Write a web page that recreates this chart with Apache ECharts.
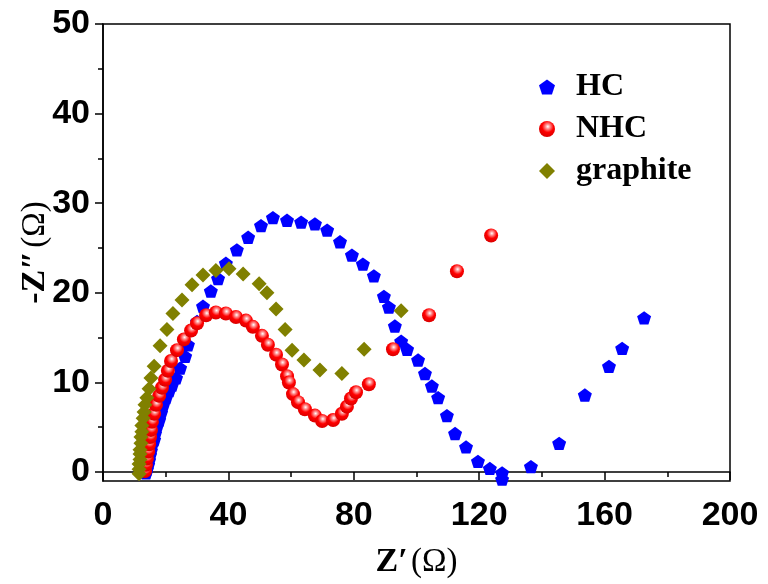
<!DOCTYPE html>
<html><head><meta charset="utf-8">
<script src="https://cdn.jsdelivr.net/npm/echarts@6/dist/echarts.min.js"></script>
<style>html,body{margin:0;padding:0;background:#fff}#c{width:768px;height:584px}</style>
</head><body><div id="c"></div>
<script>
// HC: [Z', -Z'']
const hcX = [13.7,14.0,14.4,14.7,15.0,15.3,15.6,16.3,16.6,17.2,17.9,18.5,19.1,20.1,21.1,22.0,23.3,24.6,26.2,27.1,30.0,31.9,34.4,36.7,39.2,42.7,46.3,50.4,54.2,58.7,63.2,67.6,71.5,75.6,79.4,82.9,86.4,89.6,91.2,93.1,95.1,97.0,100.5,102.7,104.9,106.9,109.7,112.3,115.8,119.6,123.4,127.3,127.3,136.5,145.5,153.7,161.4,165.6,172.6];
const hcY = [-0.1,0.3,0.8,1.3,1.9,2.4,3.0,3.6,4.3,5.1,5.8,6.6,7.4,8.3,9.1,9.7,10.5,11.6,12.9,14.2,16.8,18.5,20.2,21.6,23.3,24.8,26.2,27.5,28.4,28.1,27.9,27.7,27.0,25.7,24.2,23.2,21.9,19.6,18.4,16.3,14.6,13.7,12.5,11.0,9.6,8.3,6.3,4.3,2.8,1.2,0.4,-0.1,-0.8,0.6,3.2,8.6,11.8,13.8,17.2];
// NHC
const nhcX = [13.4,13.7,14.0,14.4,14.7,15.0,15.3,15.6,16.3,16.9,17.9,18.8,19.8,20.7,21.7,23.6,25.8,28.1,30.0,32.9,36.0,39.2,42.4,45.6,47.8,50.7,52.6,55.2,57.1,58.7,59.3,60.6,62.2,64.4,67.6,69.9,73.4,76.2,77.8,79.1,80.7,84.8,92.5,104.0,112.9,123.8];
const nhcY = [0.1,0.8,1.5,2.3,3.1,3.9,4.7,5.6,6.5,7.5,8.5,9.4,10.3,11.3,12.4,13.6,14.8,15.8,16.6,17.5,17.8,17.7,17.3,16.9,16.2,15.2,14.2,13.1,12.0,10.7,10.0,8.7,7.8,7.0,6.3,5.7,5.8,6.5,7.3,8.2,8.9,9.8,13.7,17.5,22.4,26.4];
// graphite
const grX = [11.5,11.5,11.5,11.8,11.8,11.8,12.1,12.1,12.4,12.4,12.8,13.1,13.4,14.0,14.7,15.3,16.3,18.2,20.4,22.3,25.2,28.4,31.9,36.0,40.2,44.7,49.8,52.3,55.2,58.1,60.3,64.1,69.2,76.2,83.3,95.1];
const grY = [-0.2,0.3,0.9,1.4,2.0,2.5,3.2,3.9,4.5,5.2,6.0,6.7,7.5,8.3,9.3,10.5,11.8,14.1,15.9,17.7,19.2,20.9,22.0,22.5,22.7,22.1,21.0,20.0,18.2,15.9,13.6,12.5,11.4,11.0,13.7,18.0];

const seriesNames = ['HC','NHC','graphite'];
const xTicks = [0,40,80,120,160,200];
const yTicks = [0,10,20,30,40,50];
const yMinorTicks = [5,15,25,35,45];

const zip = (a,b) => a.map((v,i)=>[v,b[i]]);
const pentagon = 'path://M0,-1L0.951,-0.309L0.588,0.809L-0.588,0.809L-0.951,-0.309Z';
const labelFont = {fontFamily:'Liberation Sans, Arial, sans-serif', fontWeight:'bold', fontSize:34, color:'#000'};
const titleRich = {rich:{b:{fontFamily:'Liberation Serif, serif',fontWeight:'bold',fontSize:34,color:'#000'},n:{fontFamily:'Liberation Serif, serif',fontSize:33,color:'#000'}}};

const chart = echarts.init(document.getElementById('c'), null, {renderer:'canvas'});
chart.setOption({
  animation:false,
  backgroundColor:'#fff',
  grid:{left:103,right:38,top:24,bottom:98,show:true,borderColor:'#000',borderWidth:1.5,backgroundColor:'transparent'},
  legend:{
    orient:'vertical', left:534, top:66, itemGap:10, itemWidth:16, itemHeight:16,
    data:seriesNames,
    textStyle:{fontFamily:'Liberation Serif, Times New Roman, serif', fontWeight:'bold', fontSize:32, color:'#000', padding:[0,0,0,16]}
  },
  xAxis:{
    type:'value', min:0, max:200, interval:40,
    axisLine:{show:true,lineStyle:{color:'#000',width:1.5}},
    axisTick:{show:true,length:8,lineStyle:{color:'#000',width:1.5}},
    minorTick:{show:true,splitNumber:2,length:5,lineStyle:{color:'#000',width:1.5}},
    splitLine:{show:false},
    axisLabel:Object.assign({margin:18, customValues:xTicks}, labelFont),
    name:'{b|Z\u2032} {n|(\u03A9)}', nameLocation:'middle', nameGap:64,
    nameTextStyle:titleRich
  },
  yAxis:[{
    type:'value', min:-1, max:50,
    axisLine:{show:true,lineStyle:{color:'#000',width:1.5}},
    axisTick:{show:true,length:8,customValues:yTicks,lineStyle:{color:'#000',width:1.5}},
    splitLine:{show:false},
    axisLabel:Object.assign({margin:13, customValues:yTicks}, labelFont),
    name:'{b|-Z\u2033} {n|(\u03A9)}', nameLocation:'middle', nameGap:51, nameMoveOverlap:false,
    nameTextStyle:titleRich
  },{
    type:'value', min:-1, max:50, position:'left',
    axisLine:{show:false},
    axisTick:{show:true,length:5,customValues:yMinorTicks,lineStyle:{color:'#000',width:1.5}},
    axisLabel:{show:false},
    splitLine:{show:false}
  }],
  series:[
    {name:'HC', type:'scatter', data:zip(hcX,hcY), symbol:pentagon, symbolSize:14, symbolKeepAspect:true,
     itemStyle:{color:'#0000ff',opacity:1}},
    {name:'NHC', type:'scatter', data:zip(nhcX,nhcY), symbol:'circle', symbolSize:14,
     itemStyle:{opacity:1,color:new echarts.graphic.RadialGradient(0.55,0.35,0.65,[
       {offset:0,color:'#ffffff'},{offset:0.22,color:'#ff9090'},{offset:0.55,color:'#ff0000'},{offset:1,color:'#d80000'}])}},
    {name:'graphite', type:'scatter', data:zip(grX,grY), symbol:'diamond', symbolSize:[15,15],
     itemStyle:{color:'#808000',opacity:1}}
  ]
});
</script></body></html>
